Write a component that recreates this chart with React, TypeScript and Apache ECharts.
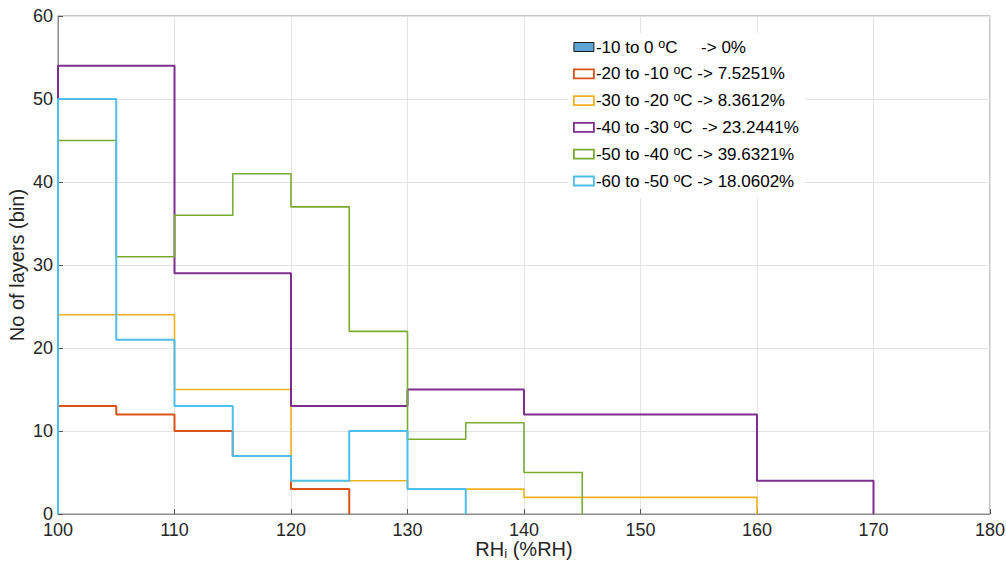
import React, { useEffect, useRef } from "react";
import * as echarts from "echarts";

const seriesNames = ["-10 to 0", "-20 to -10", "-30 to -20", "-40 to -30", "-50 to -40", "-60 to -50"];
const seriesPercents = ["     -> 0%", " -> 7.5251%", " -> 8.3612%", "  -> 23.2441%", " -> 39.6321%", " -> 18.0602%"];
const seriesColors = ["#0072BD", "#D95319", "#EDB120", "#7E2F8E", "#77AC30", "#4DBEEE"];

const edges0: number[] = [];
const counts0: number[] = [];
const edges1 = [100, 105, 110, 115, 120, 125];
const counts1 = [13, 12, 10, 7, 3];
const edges2 = [100, 110, 120, 130, 140, 150, 160];
const counts2 = [24, 15, 4, 3, 2, 2];
const edges3 = [100, 110, 120, 130, 140, 150, 160, 170];
const counts3 = [54, 29, 13, 15, 12, 12, 4];
const edges4 = [100, 105, 110, 115, 120, 125, 130, 135, 140, 145];
const counts4 = [45, 31, 36, 41, 37, 22, 9, 11, 5];
const edges5 = [100, 105, 110, 115, 120, 125, 130, 135];
const counts5 = [50, 21, 13, 7, 4, 10, 3];

const allEdges = [edges0, edges1, edges2, edges3, edges4, edges5];
const allCounts = [counts0, counts1, counts2, counts3, counts4, counts5];

const xTicks = [100, 180, 10];
const yTicks = [0, 60, 10];

function stairs(edges: number[], counts: number[]): number[][] {
  if (!edges.length) return [];
  const pts: number[][] = [[edges[0], 0]];
  counts.forEach((c, i) => {
    pts.push([edges[i], c]);
    pts.push([edges[i + 1], c]);
  });
  pts.push([edges[edges.length - 1], 0]);
  return pts;
}

const fullName = (i: number) => `${seriesNames[i]} °C${seriesPercents[i]}`;

export default function App() {
  const ref = useRef<HTMLDivElement>(null);
  useEffect(() => {
    document.body.style.margin = "0";
    const chart = echarts.init(ref.current!, null, { renderer: "svg" });
    const font = "Liberation Sans";
    const axisGray = "#8c8c8c";
    const legendData = seriesNames.map((_, i) => ({
      name: fullName(i),
      icon: "rect",
      itemStyle:
        i === 0
          ? { color: "#5FA4D6", borderColor: "#1a1a1a", borderWidth: 1 }
          : { color: "#ffffff", borderColor: seriesColors[i], borderWidth: 1.8 },
    }));
    chart.setOption({
      animation: false,
      backgroundColor: "#ffffff",
      textStyle: { fontFamily: font },
      grid: {
        left: 58,
        right: 16,
        top: 16,
        bottom: 50,
        outerBoundsMode: "none",
        containLabel: false,
        show: true,
        borderColor: axisGray,
        borderWidth: 1,
        backgroundColor: "#ffffff",
      },
      legend: {
        orient: "vertical",
        left: 568,
        top: 33,
        padding: [4, 6, 4, 5],
        backgroundColor: "#ffffff",
        itemWidth: 20,
        itemHeight: 9,
        itemGap: 3.8,
        selectedMode: false,
        data: legendData,
        formatter: (name: string) => {
          const i = legendData.findIndex((d) => d.name === name);
          return `{n|${seriesNames[i]} }{sup|o}{n|C${seriesPercents[i]}}`;
        },
        textStyle: {
          fontFamily: font,
          fontSize: 17,
          color: "#000000",
          padding: [0, 0, 0, -3],
          lineHeight: 20,
          rich: {
            n: { fontSize: 17, fontFamily: font, color: "#000", lineHeight: 20 },
            sup: { fontSize: 12.5, fontFamily: font, color: "#000", verticalAlign: "top", lineHeight: 10, padding: [0, 0, 10, 0] },
          },
        },
      },
      xAxis: {
        type: "value",
        min: xTicks[0],
        max: xTicks[1],
        interval: xTicks[2],
        name: "{n|RH}{sub|i}{n| (%RH)}",
        nameLocation: "middle",
        nameGap: 24,
        nameMoveOverlap: false,
        nameTextStyle: {
          fontFamily: font,
          fontSize: 20,
          color: "#262626",
          rich: {
            n: { fontSize: 20, fontFamily: font, color: "#262626", lineHeight: 22 },
            sub: { fontSize: 13, fontFamily: font, color: "#262626", lineHeight: 14, padding: [8, 0, 0, 0] },
          },
        },
        axisLine: { lineStyle: { color: axisGray, width: 1 } },
        axisTick: { inside: true, length: 5, lineStyle: { color: "#555" } },
        axisLabel: { fontSize: 18, color: "#262626", margin: 7, fontFamily: font },
        splitLine: { show: true, lineStyle: { color: "#e3e3e3", width: 1 } },
      },
      yAxis: {
        type: "value",
        min: yTicks[0],
        max: yTicks[1],
        interval: yTicks[2],
        name: "No of layers (bin)",
        nameLocation: "middle",
        nameGap: 31,
        nameMoveOverlap: false,
        nameTextStyle: { fontFamily: font, fontSize: 20, color: "#262626" },
        axisLine: { show: true, lineStyle: { color: axisGray, width: 1 } },
        axisTick: { show: true, inside: true, length: 5, lineStyle: { color: "#555" } },
        axisLabel: { fontSize: 18, color: "#262626", margin: 5, fontFamily: font },
        splitLine: { show: true, lineStyle: { color: "#e3e3e3", width: 1 } },
      },
      series: seriesNames.map((_, i) => ({
        name: fullName(i),
        type: "line",
        data: stairs(allEdges[i], allCounts[i]),
        showSymbol: false,
        symbol: "none",
        lineStyle: { color: seriesColors[i], width: i === 2 || i === 4 ? 1.6 : 2 },
        itemStyle: { color: seriesColors[i] },
        clip: false,
      })),
    });
    return () => chart.dispose();
  }, []);
  return <div ref={ref} style={{ width: 1006, height: 564 }} />;
}
